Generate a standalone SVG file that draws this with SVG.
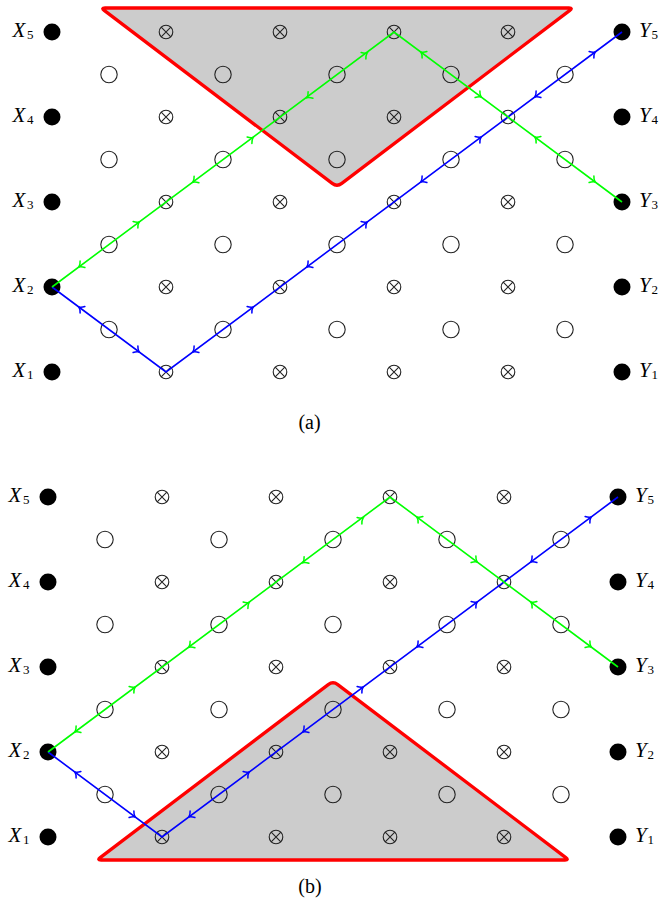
<svg xmlns="http://www.w3.org/2000/svg" xmlns:xlink="http://www.w3.org/1999/xlink" width="659" height="906" viewBox="0 0 659 906">
<style>
.lab{font-family:"Liberation Serif","DejaVu Serif",serif;font-style:italic;font-size:21px;fill:#000}
.sub{font-family:"Liberation Serif","DejaVu Serif",serif;font-style:normal;font-size:13px;fill:#000}
.cap{font-family:"Liberation Serif","DejaVu Serif",serif;font-size:20px;fill:#000}
.region{fill:#cccccc;stroke:#ff0000;stroke-width:3.3;stroke-linejoin:round}
.pg{fill:none;stroke:#00ff00;stroke-width:1.6}
.pb{fill:none;stroke:#0000ff;stroke-width:1.6}
</style>
<defs>
<g id="cx"><circle r="6.8" fill="none" stroke="#222" stroke-width="1.1"/><path d="M-4.8,-4.8L4.8,4.8M-4.8,4.8L4.8,-4.8" stroke="#222" stroke-width="1.1"/></g>
<circle id="oc" r="8.2" fill="none" stroke="#222" stroke-width="1.1"/>
<circle id="dot" r="8.5" fill="#000"/>
<path id="ahg" d="M-2.5,-4 Q-0.5,-1 2,0 Q-0.5,1 -2.5,4" fill="none" stroke="#00ff00" stroke-width="1.5" stroke-linecap="round"/>
<path id="ahb" d="M-2.5,-4 Q-0.5,-1 2,0 Q-0.5,1 -2.5,4" fill="none" stroke="#0000ff" stroke-width="1.5" stroke-linecap="round"/>
</defs>

<!-- regions -->
<g id="a-region"><path class="region" d="M105,8 L569,8 Q573,8 569.81,10.42 L341.78,183.37 Q337,187 332.22,183.37 L104.19,10.42 Q101,8 105,8 Z"/></g>
<g id="b-region"><path class="region" d="M101,860 L565,860 Q569,860 565.81,857.58 L337.78,684.63 Q333,681 328.22,684.63 L100.19,857.58 Q97,860 101,860 Z"/></g>

<!-- panel (a) terminals -->
<g id="a-X5"><use href="#dot" x="52" y="32"/><text class="lab" x="12.5" y="37">X</text><text class="sub" x="27" y="39">5</text></g>
<g id="a-X4"><use href="#dot" x="52" y="117"/><text class="lab" x="12.5" y="122">X</text><text class="sub" x="27" y="124">4</text></g>
<g id="a-X3"><use href="#dot" x="52" y="202"/><text class="lab" x="12.5" y="207">X</text><text class="sub" x="27" y="209">3</text></g>
<g id="a-X2"><use href="#dot" x="52" y="287"/><text class="lab" x="12.5" y="292">X</text><text class="sub" x="27" y="294">2</text></g>
<g id="a-X1"><use href="#dot" x="52" y="372"/><text class="lab" x="12.5" y="377">X</text><text class="sub" x="27" y="379">1</text></g>
<g id="a-Y5"><use href="#dot" x="622" y="32"/><text class="lab" x="639" y="37">Y</text><text class="sub" x="651.5" y="39">5</text></g>
<g id="a-Y4"><use href="#dot" x="622" y="117"/><text class="lab" x="639" y="122">Y</text><text class="sub" x="651.5" y="124">4</text></g>
<g id="a-Y3"><use href="#dot" x="622" y="202"/><text class="lab" x="639" y="207">Y</text><text class="sub" x="651.5" y="209">3</text></g>
<g id="a-Y2"><use href="#dot" x="622" y="287"/><text class="lab" x="639" y="292">Y</text><text class="sub" x="651.5" y="294">2</text></g>
<g id="a-Y1"><use href="#dot" x="622" y="372"/><text class="lab" x="639" y="377">Y</text><text class="sub" x="651.5" y="379">1</text></g>

<!-- panel (a) crossed nodes -->
<g id="a-c51"><use href="#cx" x="166" y="32"/></g><g id="a-c52"><use href="#cx" x="280" y="32"/></g><g id="a-c53"><use href="#cx" x="394" y="32"/></g><g id="a-c54"><use href="#cx" x="508" y="32"/></g>
<g id="a-c41"><use href="#cx" x="166" y="117"/></g><g id="a-c42"><use href="#cx" x="280" y="117"/></g><g id="a-c43"><use href="#cx" x="394" y="117"/></g><g id="a-c44"><use href="#cx" x="508" y="117"/></g>
<g id="a-c31"><use href="#cx" x="166" y="202"/></g><g id="a-c32"><use href="#cx" x="280" y="202"/></g><g id="a-c33"><use href="#cx" x="394" y="202"/></g><g id="a-c34"><use href="#cx" x="508" y="202"/></g>
<g id="a-c21"><use href="#cx" x="166" y="287"/></g><g id="a-c22"><use href="#cx" x="280" y="287"/></g><g id="a-c23"><use href="#cx" x="394" y="287"/></g><g id="a-c24"><use href="#cx" x="508" y="287"/></g>
<g id="a-c11"><use href="#cx" x="166" y="372"/></g><g id="a-c12"><use href="#cx" x="280" y="372"/></g><g id="a-c13"><use href="#cx" x="394" y="372"/></g><g id="a-c14"><use href="#cx" x="508" y="372"/></g>

<!-- panel (a) open nodes -->
<g id="a-o41"><use href="#oc" x="109" y="74.5"/></g><g id="a-o42"><use href="#oc" x="223" y="74.5"/></g><g id="a-o43"><use href="#oc" x="337" y="74.5"/></g><g id="a-o44"><use href="#oc" x="451" y="74.5"/></g><g id="a-o45"><use href="#oc" x="565" y="74.5"/></g>
<g id="a-o31"><use href="#oc" x="109" y="159.5"/></g><g id="a-o32"><use href="#oc" x="223" y="159.5"/></g><g id="a-o33"><use href="#oc" x="337" y="159.5"/></g><g id="a-o34"><use href="#oc" x="451" y="159.5"/></g><g id="a-o35"><use href="#oc" x="565" y="159.5"/></g>
<g id="a-o21"><use href="#oc" x="109" y="244.5"/></g><g id="a-o22"><use href="#oc" x="223" y="244.5"/></g><g id="a-o23"><use href="#oc" x="337" y="244.5"/></g><g id="a-o24"><use href="#oc" x="451" y="244.5"/></g><g id="a-o25"><use href="#oc" x="565" y="244.5"/></g>
<g id="a-o11"><use href="#oc" x="109" y="329.5"/></g><g id="a-o12"><use href="#oc" x="223" y="329.5"/></g><g id="a-o13"><use href="#oc" x="337" y="329.5"/></g><g id="a-o14"><use href="#oc" x="451" y="329.5"/></g><g id="a-o15"><use href="#oc" x="565" y="329.5"/></g>

<!-- panel (b) terminals -->
<g id="b-X5"><use href="#dot" x="48" y="497"/><text class="lab" x="8.5" y="502">X</text><text class="sub" x="23" y="504">5</text></g>
<g id="b-X4"><use href="#dot" x="48" y="582"/><text class="lab" x="8.5" y="587">X</text><text class="sub" x="23" y="589">4</text></g>
<g id="b-X3"><use href="#dot" x="48" y="667"/><text class="lab" x="8.5" y="672">X</text><text class="sub" x="23" y="674">3</text></g>
<g id="b-X2"><use href="#dot" x="48" y="752"/><text class="lab" x="8.5" y="757">X</text><text class="sub" x="23" y="759">2</text></g>
<g id="b-X1"><use href="#dot" x="48" y="837"/><text class="lab" x="8.5" y="842">X</text><text class="sub" x="23" y="844">1</text></g>
<g id="b-Y5"><use href="#dot" x="618" y="497"/><text class="lab" x="635" y="502">Y</text><text class="sub" x="647.5" y="504">5</text></g>
<g id="b-Y4"><use href="#dot" x="618" y="582"/><text class="lab" x="635" y="587">Y</text><text class="sub" x="647.5" y="589">4</text></g>
<g id="b-Y3"><use href="#dot" x="618" y="667"/><text class="lab" x="635" y="672">Y</text><text class="sub" x="647.5" y="674">3</text></g>
<g id="b-Y2"><use href="#dot" x="618" y="752"/><text class="lab" x="635" y="757">Y</text><text class="sub" x="647.5" y="759">2</text></g>
<g id="b-Y1"><use href="#dot" x="618" y="837"/><text class="lab" x="635" y="842">Y</text><text class="sub" x="647.5" y="844">1</text></g>

<!-- panel (b) crossed nodes -->
<g id="b-c51"><use href="#cx" x="162" y="497"/></g><g id="b-c52"><use href="#cx" x="276" y="497"/></g><g id="b-c53"><use href="#cx" x="390" y="497"/></g><g id="b-c54"><use href="#cx" x="504" y="497"/></g>
<g id="b-c41"><use href="#cx" x="162" y="582"/></g><g id="b-c42"><use href="#cx" x="276" y="582"/></g><g id="b-c43"><use href="#cx" x="390" y="582"/></g><g id="b-c44"><use href="#cx" x="504" y="582"/></g>
<g id="b-c31"><use href="#cx" x="162" y="667"/></g><g id="b-c32"><use href="#cx" x="276" y="667"/></g><g id="b-c33"><use href="#cx" x="390" y="667"/></g><g id="b-c34"><use href="#cx" x="504" y="667"/></g>
<g id="b-c21"><use href="#cx" x="162" y="752"/></g><g id="b-c22"><use href="#cx" x="276" y="752"/></g><g id="b-c23"><use href="#cx" x="390" y="752"/></g><g id="b-c24"><use href="#cx" x="504" y="752"/></g>
<g id="b-c11"><use href="#cx" x="162" y="837"/></g><g id="b-c12"><use href="#cx" x="276" y="837"/></g><g id="b-c13"><use href="#cx" x="390" y="837"/></g><g id="b-c14"><use href="#cx" x="504" y="837"/></g>

<!-- panel (b) open nodes -->
<g id="b-o41"><use href="#oc" x="105" y="539.5"/></g><g id="b-o42"><use href="#oc" x="219" y="539.5"/></g><g id="b-o43"><use href="#oc" x="333" y="539.5"/></g><g id="b-o44"><use href="#oc" x="447" y="539.5"/></g><g id="b-o45"><use href="#oc" x="561" y="539.5"/></g>
<g id="b-o31"><use href="#oc" x="105" y="624.5"/></g><g id="b-o32"><use href="#oc" x="219" y="624.5"/></g><g id="b-o33"><use href="#oc" x="333" y="624.5"/></g><g id="b-o34"><use href="#oc" x="447" y="624.5"/></g><g id="b-o35"><use href="#oc" x="561" y="624.5"/></g>
<g id="b-o21"><use href="#oc" x="105" y="709.5"/></g><g id="b-o22"><use href="#oc" x="219" y="709.5"/></g><g id="b-o23"><use href="#oc" x="333" y="709.5"/></g><g id="b-o24"><use href="#oc" x="447" y="709.5"/></g><g id="b-o25"><use href="#oc" x="561" y="709.5"/></g>
<g id="b-o11"><use href="#oc" x="105" y="794.5"/></g><g id="b-o12"><use href="#oc" x="219" y="794.5"/></g><g id="b-o13"><use href="#oc" x="333" y="794.5"/></g><g id="b-o14"><use href="#oc" x="447" y="794.5"/></g><g id="b-o15"><use href="#oc" x="561" y="794.5"/></g>

<!-- connectors -->
<g id="connectors">
<path class="pb" d="M52,287 L166,372 L622,32"/>
<path class="pg" d="M52,287 L394,32 L622,202"/>
<path class="pb" d="M48,752 L162,837 L618,497"/>
<path class="pg" d="M48,752 L390,497 L618,667"/>

<!-- (a) green arrows -->
<use href="#ahg" transform="translate(80.5,265.75) rotate(143.3)"/>
<use href="#ahg" transform="translate(137.5,223.25) rotate(-36.7)"/>
<use href="#ahg" transform="translate(194.5,181) rotate(143.3)"/>
<use href="#ahg" transform="translate(251.5,138.75) rotate(-36.7)"/>
<use href="#ahg" transform="translate(308.5,96.5) rotate(143.3)"/>
<use href="#ahg" transform="translate(365.5,54.25) rotate(-36.7)"/>
<use href="#ahg" transform="translate(422.5,53.25) rotate(-143.3)"/>
<use href="#ahg" transform="translate(479.5,95.75) rotate(36.7)"/>
<use href="#ahg" transform="translate(536.5,138.25) rotate(-143.3)"/>
<use href="#ahg" transform="translate(593.5,180.75) rotate(36.7)"/>
<!-- (a) blue arrows -->
<use href="#ahb" transform="translate(80.5,308.25) rotate(-143.3)"/>
<use href="#ahb" transform="translate(137.5,350.75) rotate(36.7)"/>
<use href="#ahb" transform="translate(194.5,350.75) rotate(143.3)"/>
<use href="#ahb" transform="translate(251.5,308.25) rotate(-36.7)"/>
<use href="#ahb" transform="translate(308.5,265.75) rotate(143.3)"/>
<use href="#ahb" transform="translate(365.5,223.25) rotate(-36.7)"/>
<use href="#ahb" transform="translate(422.5,180.75) rotate(143.3)"/>
<use href="#ahb" transform="translate(479.5,138.25) rotate(-36.7)"/>
<use href="#ahb" transform="translate(536.5,95.75) rotate(143.3)"/>
<use href="#ahb" transform="translate(593.5,53.25) rotate(-36.7)"/>
<!-- (b) green arrows -->
<use href="#ahg" transform="translate(76.5,730.75) rotate(143.3)"/>
<use href="#ahg" transform="translate(133.5,688.25) rotate(-36.7)"/>
<use href="#ahg" transform="translate(190.5,646) rotate(143.3)"/>
<use href="#ahg" transform="translate(247.5,603.75) rotate(-36.7)"/>
<use href="#ahg" transform="translate(304.5,561.5) rotate(143.3)"/>
<use href="#ahg" transform="translate(361.5,519.25) rotate(-36.7)"/>
<use href="#ahg" transform="translate(418.5,518.25) rotate(-143.3)"/>
<use href="#ahg" transform="translate(475.5,560.75) rotate(36.7)"/>
<use href="#ahg" transform="translate(532.5,603.25) rotate(-143.3)"/>
<use href="#ahg" transform="translate(589.5,645.75) rotate(36.7)"/>
<!-- (b) blue arrows -->
<use href="#ahb" transform="translate(76.5,773.25) rotate(-143.3)"/>
<use href="#ahb" transform="translate(133.5,815.75) rotate(36.7)"/>
<use href="#ahb" transform="translate(190.5,815.75) rotate(143.3)"/>
<use href="#ahb" transform="translate(247.5,773.25) rotate(-36.7)"/>
<use href="#ahb" transform="translate(304.5,730.75) rotate(143.3)"/>
<use href="#ahb" transform="translate(361.5,688.25) rotate(-36.7)"/>
<use href="#ahb" transform="translate(418.5,645.75) rotate(143.3)"/>
<use href="#ahb" transform="translate(475.5,603.25) rotate(-36.7)"/>
<use href="#ahb" transform="translate(532.5,560.75) rotate(143.3)"/>
<use href="#ahb" transform="translate(589.5,518.25) rotate(-36.7)"/>
</g>

<!-- captions -->
<text class="cap" x="309.5" y="428.5" text-anchor="middle">(a)</text>
<text class="cap" x="310" y="892.5" text-anchor="middle">(b)</text>
</svg>
